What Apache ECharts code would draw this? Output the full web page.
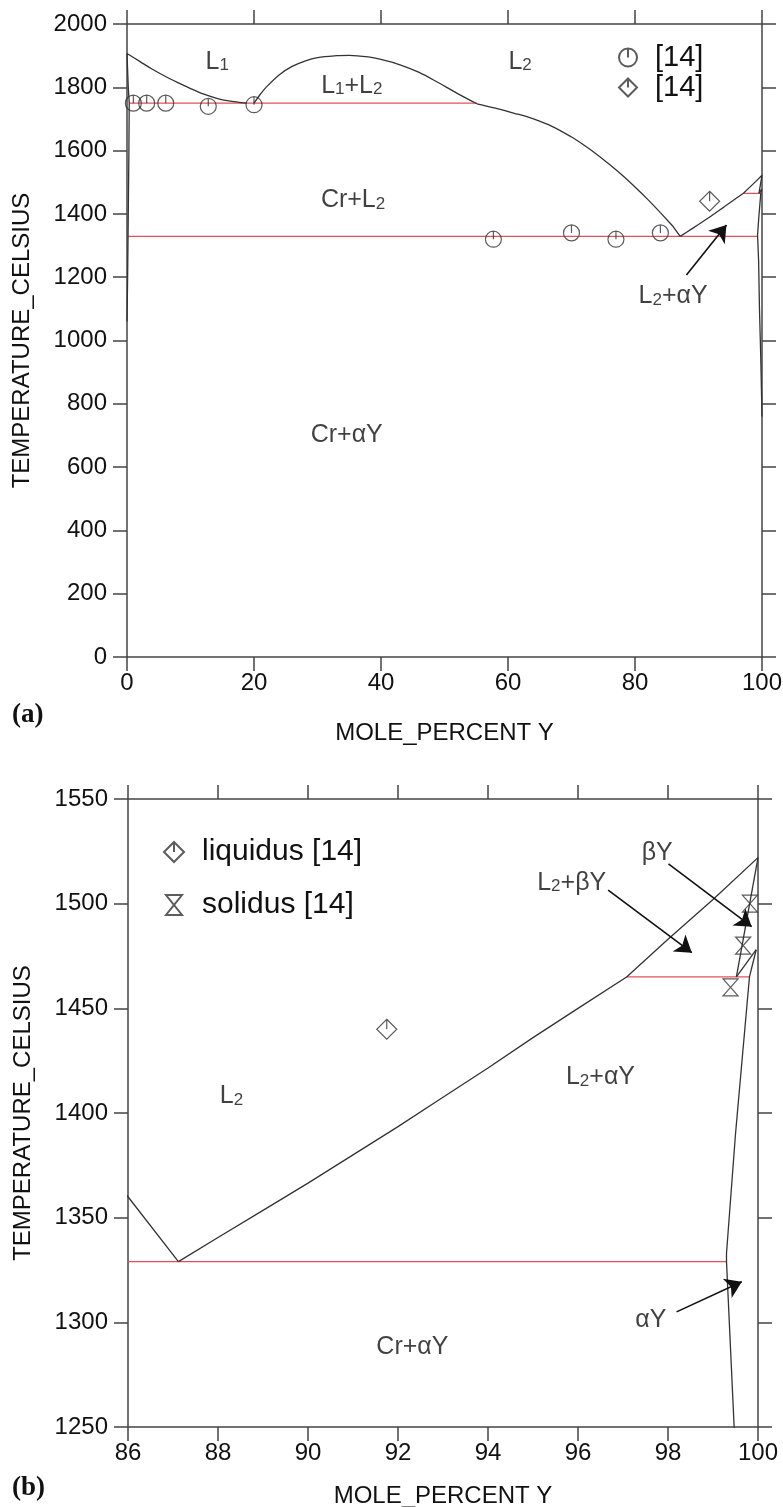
<!DOCTYPE html>
<html>
<head>
<meta charset="utf-8">
<script src="https://cdn.jsdelivr.net/npm/echarts@6/dist/echarts.min.js"></script>
<style>
  html, body { margin: 0; padding: 0; background: #fff; }
  #main { width: 783px; height: 1507px; }
</style>
</head>
<body>
<div id="main"></div>
<script>
// --- phase boundaries, [mole % Y, temperature C] ---
const crSolvus = [[0, 1907], [0.2, 1800], [0.35, 1750], [0.3, 1600], [0.2, 1400], [0.1, 1200], [0, 1060]];
const l1Liquidus = [[0, 1907], [2, 1882], [4, 1857], [6, 1835], [8, 1815], [10, 1796], [12, 1779], [14, 1766], [16, 1757], [18.8, 1750]];
const gapDome = [[20, 1750], [21, 1778], [22, 1802], [24, 1840], [26, 1866], [28, 1883], [30, 1894], [33, 1900], [35, 1901],
  [38, 1896], [40, 1888], [43, 1871], [46, 1847], [49, 1815], [52, 1781], [55.1, 1748]];
const l2Liquidus = [[55.1, 1748], [58, 1734], [61, 1718], [64, 1700], [67, 1676], [70, 1643], [72, 1617], [74, 1588], [76, 1556],
  [78, 1522], [80, 1485], [82, 1446], [84, 1404]];
const crLiquidusTail = [[84, 1404], [86, 1360], [87.12, 1329]];
const yLiquidus = [[87.12, 1329], [88, 1340.5], [89, 1353.5], [90, 1366.5], [91, 1380], [92, 1393.5], [93, 1407.5], [94, 1421.5],
  [95, 1436], [96, 1450], [97.08, 1465], [98, 1483], [99, 1502], [100, 1522]];
const betaSolidus = [[100, 1522], [99.52, 1465]];
const betaAlpha = [[99.96, 1478], [99.52, 1465]];
const alphaSolvus = [[99.96, 1478], [99.81, 1465], [99.5, 1390], [99.3, 1333], [99.3, 1329], [99.47, 1250], [99.6, 1100], [99.8, 950], [100, 760]];

// invariant reactions (red)
const monotectic = [[0.35, 1750], [55.1, 1750]];
const eutectic = [[0.1, 1329], [99.3, 1329]];
const betaReaction = [[97.08, 1465], [99.81, 1465]];

// experimental points [14]
const circlePts = [[1, 1750], [3.1, 1750], [6.1, 1750], [12.8, 1740], [20, 1745], [57.7, 1320], [70, 1340], [77, 1320], [84, 1340]];
const liquidusPts = [[91.75, 1440]];
const solidusPts = [[99.82, 1500], [99.67, 1480], [99.39, 1460]];

// phase labels [x, T, text]
const labelsA = [
  [14.2, 1881, '{m|L}{s|1}'],
  [35.4, 1805, '{m|L}{s|1}{m|+L}{s|2}'],
  [61.9, 1881, '{m|L}{s|2}'],
  [35.6, 1444, '{m|Cr+L}{s|2}'],
  [34.6, 701, '{m|Cr+αY}'],
  [86.0, 1141, '{m|L}{s|2}{m|+αY}']
];
const labelsB = [
  [88.3, 1408, '{m|L}{s|2}'],
  [96.5, 1417, '{m|L}{s|2}{m|+αY}'],
  [92.32, 1288, '{m|Cr+αY}'],
  [97.76, 1524, '{m|βY}'],
  [95.86, 1510, '{m|L}{s|2}{m|+βY}'],
  [97.62, 1301, '{m|αY}']
];
// arrows [[tail], [head]]
const arrowsA = [[[88.1, 1207], [94.4, 1365]]];
const arrowsB = [
  [[98.01, 1519], [99.86, 1489]],
  [[96.67, 1506.5], [98.53, 1476.6]],
  [[98.19, 1305], [99.64, 1319.4]]
];

const xTicksA = { min: 0, max: 100, interval: 20 };
const yTicksA = { min: 0, max: 2000, interval: 200 };
const xTicksB = { min: 86, max: 100, interval: 2 };
const yTicksB = { min: 1250, max: 1550, interval: 50 };

const circleSym = 'path://M0,-10A10,10,0,1,1,0,10A10,10,0,1,1,0,-10ZM0,-10L0,0';
const diamondSym = 'path://M0,-10L10,0L0,10L-10,0ZM0,-10L0,0';
const hourglassSym = 'path://M-8,-10L8,-10L-8,10L8,10Z';

const axisColor = '#444';
const textColor = '#111';
const font = 'Liberation Sans, Arial, sans-serif';

function makeAxis(t, pos, opts) {
  return Object.assign({
    type: 'value', min: t.min, max: t.max, interval: t.interval, position: pos,
    axisLine: { show: true, onZero: false, lineStyle: { color: axisColor, width: 1.5 } },
    axisTick: { show: true, inside: false, length: 14, lineStyle: { color: axisColor, width: 1.5 } },
    axisLabel: { show: false },
    splitLine: { show: false }
  }, opts);
}
const tickLabel = { show: true, fontSize: 24, color: textColor, fontFamily: font, formatter: v => String(v) };
const nameStyle = { fontSize: 24, color: textColor, fontFamily: font };

const chart = echarts.init(document.getElementById('main'));
const series = [];

function addLine(data, color, width, gi, smooth) {
  series.push({
    type: 'line', data: data, xAxisIndex: gi * 2, yAxisIndex: gi * 2,
    symbol: 'none', showSymbol: false, clip: true, silent: true,
    smooth: smooth ? 0.35 : false,
    lineStyle: { color: color, width: width }, z: color === '#333' ? 3 : 2
  });
}
[0, 1].forEach(gi => {
  [l1Liquidus, gapDome, l2Liquidus].forEach(d => addLine(d, '#333', 1.3, gi, true));
  [crSolvus, crLiquidusTail, yLiquidus, betaSolidus, betaAlpha, alphaSolvus].forEach(d => addLine(d, '#333', 1.3, gi, false));
  [monotectic, eutectic, betaReaction].forEach(d => addLine(d, '#e4505a', 1.3, gi, false));
});

const markStyle = { color: 'rgba(0,0,0,0)', borderColor: '#333', borderWidth: 1.2 };
series.push({ type: 'scatter', name: '[14]', data: circlePts, xAxisIndex: 0, yAxisIndex: 0,
  symbol: circleSym, symbolSize: [16, 16], itemStyle: markStyle, z: 5 });
series.push({ type: 'scatter', name: '[14] ', data: liquidusPts, xAxisIndex: 0, yAxisIndex: 0,
  symbol: diamondSym, symbolSize: [20, 20], itemStyle: markStyle, z: 5 });
series.push({ type: 'scatter', name: 'liquidus [14]', data: liquidusPts, xAxisIndex: 2, yAxisIndex: 2,
  symbol: diamondSym, symbolSize: [20, 20], itemStyle: markStyle, z: 5 });
series.push({ type: 'scatter', name: 'solidus [14]', data: solidusPts, xAxisIndex: 2, yAxisIndex: 2,
  symbol: hourglassSym, symbolSize: [15, 17], itemStyle: markStyle, z: 5 });

const richText = {
  m: { fontSize: 25, color: textColor, fontFamily: font, verticalAlign: 'bottom' },
  s: { fontSize: 17, color: textColor, fontFamily: font, verticalAlign: 'bottom' }
};
[[labelsA, 0], [labelsB, 2]].forEach(([labels, idx]) => {
  series.push({
    type: 'scatter', data: labels, xAxisIndex: idx, yAxisIndex: idx, symbolSize: 1,
    itemStyle: { color: 'rgba(0,0,0,0)' }, silent: true, z: 6,
    label: { show: true, position: 'inside', formatter: p => p.data[2], rich: richText }
  });
});
[[arrowsA, 0], [arrowsB, 2]].forEach(([arrows, idx]) => {
  series.push({
    type: 'lines', coordinateSystem: 'cartesian2d', xAxisIndex: idx, yAxisIndex: idx,
    data: arrows.map(a => ({ coords: a })), symbol: ['none', 'arrow'], symbolSize: [9, 16],
    lineStyle: { color: '#111', width: 1.6, opacity: 1 }, silent: true, z: 7
  });
});

const legendBase = {
  orient: 'vertical', selectedMode: false,
  formatter: n => '{g|}' + n.trim()
};

chart.setOption({
  animation: false,
  textStyle: { fontFamily: font },
  grid: [
    { left: 127, top: 24, width: 635, height: 633, outerBoundsMode: 'none' },
    { left: 128, top: 799, width: 630, height: 628, outerBoundsMode: 'none' }
  ],
  xAxis: [
    makeAxis(xTicksA, 'bottom', { gridIndex: 0, axisLabel: Object.assign({ margin: 14 }, tickLabel),
      name: 'MOLE_PERCENT Y', nameLocation: 'middle', nameGap: 64, nameTextStyle: nameStyle }),
    makeAxis(xTicksA, 'top', { gridIndex: 0 }),
    makeAxis(xTicksB, 'bottom', { gridIndex: 1, axisLabel: Object.assign({ margin: 14 }, tickLabel),
      name: 'MOLE_PERCENT Y', nameLocation: 'middle', nameGap: 57, nameTextStyle: nameStyle }),
    makeAxis(xTicksB, 'top', { gridIndex: 1 })
  ],
  yAxis: [
    makeAxis(yTicksA, 'left', { gridIndex: 0, axisLabel: Object.assign({ margin: 20 }, tickLabel),
      name: 'TEMPERATURE_CELSIUS', nameLocation: 'middle', nameGap: 93, nameTextStyle: nameStyle }),
    makeAxis(yTicksA, 'right', { gridIndex: 0 }),
    makeAxis(yTicksB, 'left', { gridIndex: 1, axisLabel: Object.assign({ margin: 20 }, tickLabel),
      name: 'TEMPERATURE_CELSIUS', nameLocation: 'middle', nameGap: 93, nameTextStyle: nameStyle }),
    makeAxis(yTicksB, 'right', { gridIndex: 1 })
  ],
  legend: [
    Object.assign({}, legendBase, { data: ['[14]', '[14] '], left: 613, top: 38, itemGap: 1,
      itemWidth: 18, itemHeight: 18,
      textStyle: { fontSize: 29, color: textColor, fontFamily: font, rich: { g: { width: 13 } } } }),
    Object.assign({}, legendBase, { data: ['liquidus [14]', 'solidus [14]'], left: 158, top: 832, itemGap: 23,
      itemWidth: 20, itemHeight: 20,
      textStyle: { fontSize: 30, color: textColor, fontFamily: font, rich: { g: { width: 13 } } } })
  ],
  graphic: [
    { type: 'text', left: 12, top: 702, style: { text: '(a)', font: 'bold 27px "Liberation Serif", "Times New Roman", serif', fill: '#111' } },
    { type: 'text', left: 12, top: 1475, style: { text: '(b)', font: 'bold 27px "Liberation Serif", "Times New Roman", serif', fill: '#111' } }
  ],
  series: series
});
</script>
</body>
</html>
